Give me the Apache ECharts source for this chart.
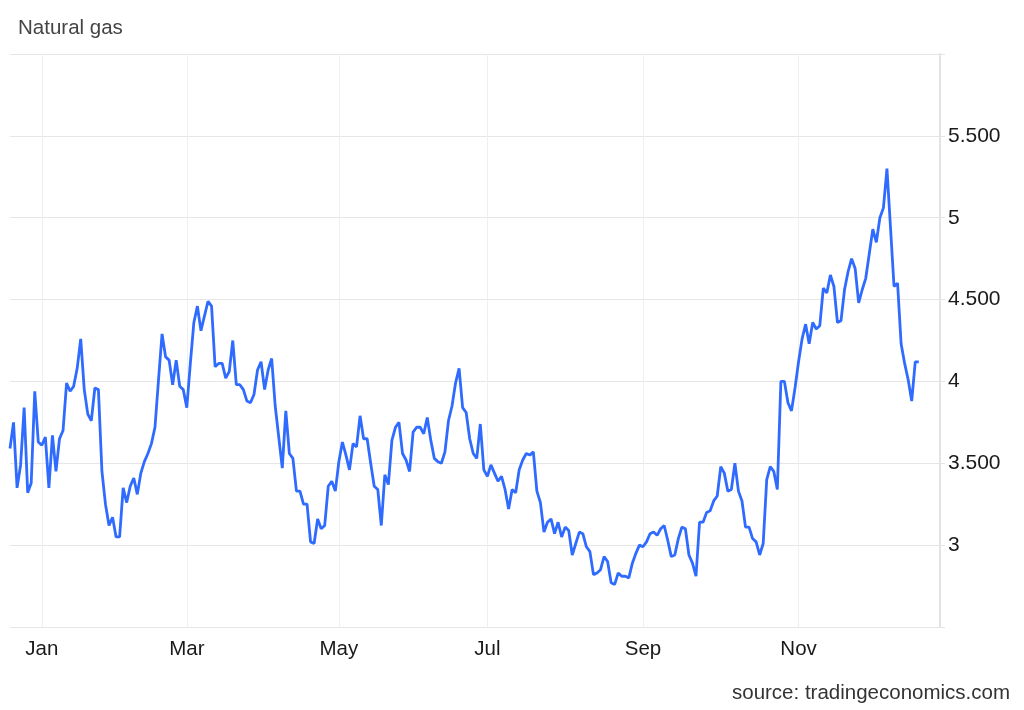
<!DOCTYPE html>
<html>
<head>
<meta charset="utf-8">
<script src="https://cdn.jsdelivr.net/npm/echarts@6/dist/echarts.min.js"></script>
<style>
html,body{margin:0;padding:0;background:#fff;}
#chart{width:1024px;height:710px;}
</style>
</head>
<body>
<div id="chart"></div>
<script>
// ---- data (trading days) ----
const startDate = '2024-12-18';
const holidays = ['2024-12-25','2025-01-01','2025-01-20','2025-05-26','2025-09-01','2025-11-27','2025-12-25'];
const padDays = 6;
const monthNames = ['Jan','Feb','Mar','Apr','May','Jun','Jul','Aug','Sep','Oct','Nov','Dec'];
const labelMonths = [0, 2, 4, 6, 8, 10];
const yTickLabels = {3: '3', 3.5: '3.500', 4: '4', 4.5: '4.500', 5: '5', 5.5: '5.500'};

const decFeb = [3.59,3.75,3.35,3.49,3.84,3.32,3.38,3.94,3.63,3.61,3.66,3.35,3.67,3.45,3.65,3.70,3.99,3.94,3.97,4.08,4.26,3.95,3.80,3.76,3.96,3.95,3.45,3.25,3.12,3.17,3.05,3.05,3.35,3.26,3.36,3.41,3.31,3.44,3.51,3.56,3.62,3.72,4.01,4.29,4.15,4.13];
const febApr = [3.98,4.13,3.97,3.95,3.84,4.11,4.36,4.46,4.31,4.40,4.49,4.46,4.09,4.11,4.11,4.02,4.06,4.25,3.98,3.98,3.95,3.88,3.87,3.92,4.07,4.12,3.95,4.07,4.14,3.85,3.66,3.47,3.82,3.56,3.53,3.33,3.33,3.25,3.25,3.02,3.01,3.16,3.10,3.12,3.36];
const aprJul = [3.39,3.33,3.51,3.63,3.55,3.46,3.62,3.60,3.79,3.65,3.65,3.50,3.36,3.34,3.12,3.43,3.37,3.64,3.72,3.75,3.56,3.52,3.45,3.69,3.72,3.72,3.68,3.78,3.64,3.53,3.51,3.50,3.57,3.76,3.85,3.99,4.08,3.84,3.81,3.65,3.56,3.53,3.74,3.46,3.42,3.49,3.44,3.39];
const julSep = [3.42,3.34,3.22,3.34,3.32,3.46,3.52,3.56,3.55,3.57,3.33,3.26,3.08,3.14,3.16,3.07,3.14,3.05,3.11,3.09,2.94,3.01,3.08,3.07,2.99,2.96,2.82,2.83,2.85,2.93,2.90,2.77,2.76,2.83,2.81,2.81,2.80,2.89,2.95,3.00,2.99,3.02,3.07,3.08,3.06];
const sepOct = [3.10,3.12,3.03,2.93,2.94,3.04,3.11,3.10,2.94,2.89,2.81,3.14,3.14,3.20,3.21,3.27,3.30,3.48,3.44,3.33,3.34,3.50,3.33,3.27,3.11,3.11,3.04,3.02,2.94,3.01,3.40,3.48,3.45,3.34,4.00,4.00,3.87,3.82,3.96,4.12];
const novDec = [4.26,4.35,4.23,4.36,4.32,4.34,4.57,4.54,4.65,4.58,4.36,4.37,4.56,4.67,4.75,4.69,4.48,4.56,4.63,4.78,4.93,4.85,5.00,5.06,5.30,4.94,4.58,4.60,4.23,4.11,4.01,3.88,4.12,4.12];

const values = [].concat(decFeb, febApr, aprJul, julSep, sepOct, novDec);

// trading-day categories
const dates = [];
(function () {
  let t = Date.parse(startDate + 'T00:00:00Z');
  while (dates.length < values.length + padDays) {
    const d = new Date(t);
    const wd = d.getUTCDay();
    const s = d.toISOString().slice(0, 10);
    if (wd !== 0 && wd !== 6 && holidays.indexOf(s) < 0) dates.push(s);
    t += 86400000;
  }
})();

function isLabelDay(i) {
  if (i <= 0) return false;
  const m = +dates[i].slice(5, 7) - 1;
  const pm = +dates[i - 1].slice(5, 7) - 1;
  return m !== pm && labelMonths.indexOf(m) >= 0;
}

const FONT = '"Liberation Sans", Arial, Helvetica, sans-serif';
const chart = echarts.init(document.getElementById('chart'), null, {renderer: 'canvas'});
chart.setOption({
  animation: false,
  backgroundColor: '#ffffff',
  grid: {left: 10, right: 84, top: 54, bottom: 83, containLabel: false},
  graphic: [
    {type: 'text', left: 18, top: 18, style: {text: 'Natural gas', font: '20.5px ' + FONT, fill: '#444444'}},
    {type: 'text', right: 14, top: 683, style: {text: 'source: tradingeconomics.com', font: '20.5px ' + FONT, fill: '#333333'}}
  ],
  xAxis: {
    type: 'category',
    data: dates,
    boundaryGap: false,
    axisLine: {show: false},
    axisTick: {show: false, interval: (i) => isLabelDay(i)},
    axisLabel: {
      interval: (i) => isLabelDay(i),
      formatter: (v) => monthNames[+v.slice(5, 7) - 1],
      color: '#1a1a1a', fontSize: 20.5, fontFamily: FONT, margin: 12
    },
    splitLine: {show: true, interval: (i) => isLabelDay(i), lineStyle: {color: '#ebf0f5', width: 1}}
  },
  yAxis: {
    type: 'value',
    position: 'right',
    min: 2.5, max: 6, interval: 0.5,
    axisLine: {show: true, lineStyle: {color: '#e3e3e3', width: 2}},
    axisTick: {show: true, length: 5, lineStyle: {color: '#e3e3e3'}},
    axisLabel: {
      formatter: (v) => yTickLabels[v] || '',
      color: '#1a1a1a', fontSize: 21, fontFamily: FONT, margin: 8
    },
    splitLine: {show: true, lineStyle: {color: '#e6e6e6', width: 1}}
  },
  series: [{
    type: 'line',
    data: values,
    showSymbol: false,
    symbol: 'none',
    lineStyle: {color: '#2f6bff', width: 2.8},
    z: 3
  }]
});
</script>
</body>
</html>
